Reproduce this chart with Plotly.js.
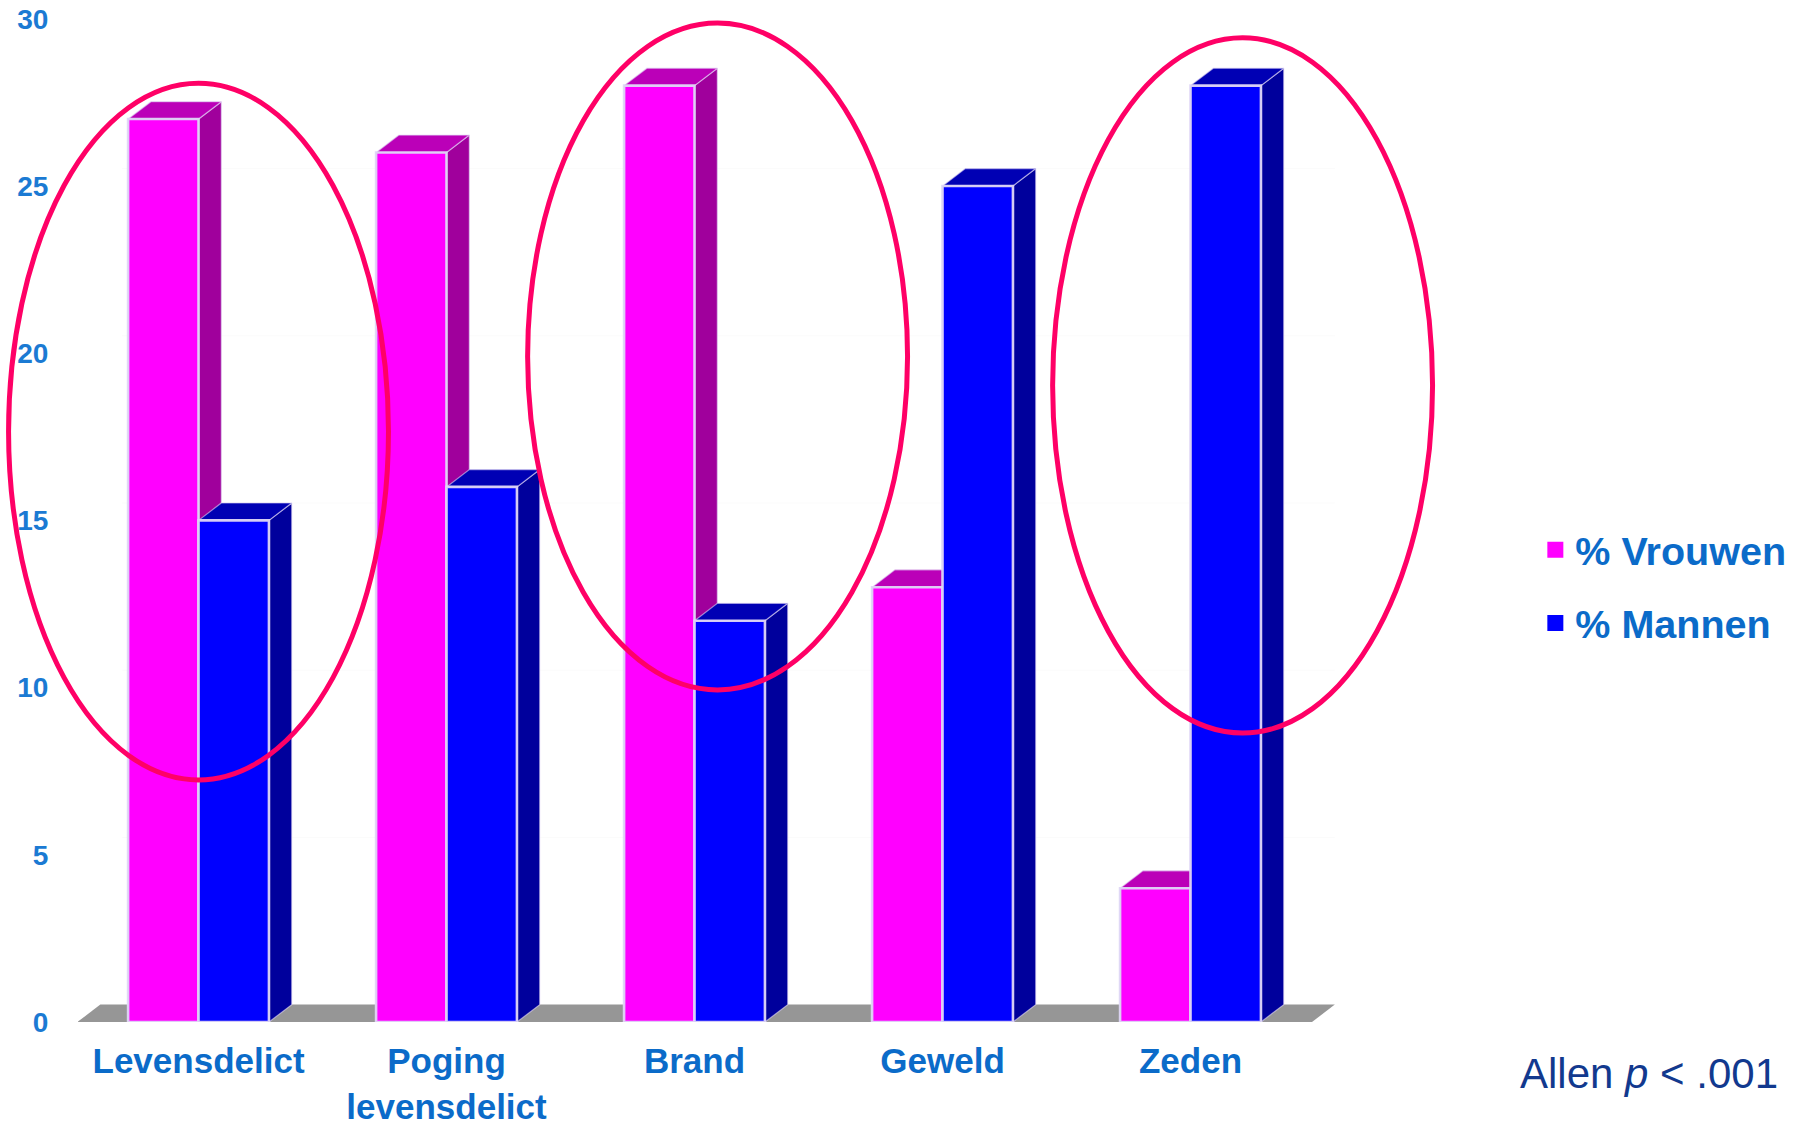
<!DOCTYPE html>
<html>
<head>
<meta charset="utf-8">
<script src="https://cdn.plot.ly/plotly-3.0.1.min.js"></script>
<style>html,body{margin:0;padding:0;background:#fff}#chart{width:1794px;height:1122px}</style>
</head>
<body>
<div id="chart"></div>
<script>
// Delict categories and percentages per gender
const categories = ["Levensdelict", "Poging<br>levensdelict", "Brand", "Geweld", "Zeden"];
const vrouwen = [27, 26, 28, 13, 4];
const mannen = [15, 16, 12, 25, 28];
const yTicks = [0, 5, 10, 15, 20, 25, 30];

// Axis set-up shared by the back layer and the front bars
const xRange = [-0.486, 5.006];
const yRange = [0, 30.5];
const margin = {l: 78, r: 354, t: 2, b: 100, pad: 0};
const barWidth = 0.284;
const depthX = 0.092;
const depthY = 0.52;

const BLUE_TEXT = "#0b6bc9";
const FONT = "'Liberation Sans', Arial, sans-serif";
const indices = categories.map((_, i) => i);

// Parallelogram for the receding right face of a bar
function sidePolygon(left, value, color) {
  const r = left + barWidth;
  return {
    type: "scatter", mode: "lines", fill: "toself", fillcolor: color,
    x: [r, r + depthX, r + depthX, r, r],
    y: [0, depthY, value + depthY, value, 0],
    line: {color: "rgba(225,215,245,0.6)", width: 1.2},
    hoverinfo: "skip", showlegend: false
  };
}
// Parallelogram for the top face of a bar
function topPolygon(left, value, color) {
  const r = left + barWidth;
  return {
    type: "scatter", mode: "lines", fill: "toself", fillcolor: color,
    x: [left, r, r + depthX, left + depthX, left],
    y: [value, value, value + depthY, value + depthY, value],
    line: {color: "rgba(225,215,245,0.6)", width: 1.2},
    hoverinfo: "skip", showlegend: false
  };
}

const traces = [];

// Faint gridlines on the back wall
yTicks.slice(1).forEach(t => traces.push({
  type: "scatter", mode: "lines",
  x: [-0.4 + depthX, 4.49 + depthX], y: [t + depthY, t + depthY],
  line: {color: "#fbfbfb", width: 1}, hoverinfo: "skip", showlegend: false
}));

// Grey floor strip
traces.push({
  type: "scatter", mode: "lines", fill: "toself", fillcolor: "#969696",
  x: [-0.488, 4.49, 4.49 + depthX, -0.488 + depthX, -0.488],
  y: [0, 0, depthY, depthY, 0],
  line: {color: "#969696", width: 0}, hoverinfo: "skip", showlegend: false
});

// Side and top faces sit beneath the front faces
indices.forEach(i => {
  traces.push(sidePolygon(i - barWidth, vrouwen[i], "#a0009c"));
  traces.push(topPolygon(i - barWidth, vrouwen[i], "#bb00b8"));
  traces.push(sidePolygon(i, mannen[i], "#00009c"));
  traces.push(topPolygon(i, mannen[i], "#0000b4"));
});

// Front faces, on an overlaid subplot so they cover the faces behind them
const edge = {color: "rgba(222,214,246,0.95)", width: 2.6};
traces.push({
  type: "bar", name: "% Vrouwen", x: indices, y: vrouwen, xaxis: "x2", yaxis: "y2",
  marker: {color: "#ff00ff", line: edge}, showlegend: false
});
traces.push({
  type: "bar", name: "% Mannen", x: indices, y: mannen, xaxis: "x2", yaxis: "y2",
  marker: {color: "#0000ff", line: edge}, showlegend: false
});

// Legend keys
[["% Vrouwen", "#ff00ff"], ["% Mannen", "#0000ff"]].forEach(([name, color]) => traces.push({
  type: "scatter", mode: "markers", name: name, x: [null], y: [null],
  legendgroup: name,
  marker: {symbol: "square", size: 16, color: color}
}));

// Convert axis values into paper fractions so the ovals may leave the plot area
const px = v => (v - xRange[0]) / (xRange[1] - xRange[0]);
const py = v => (v - yRange[0]) / (yRange[1] - yRange[0]);

function oval(cx, rx, top, bottom) {
  return {
    type: "circle", xref: "paper", yref: "paper",
    x0: px(cx - rx), x1: px(cx + rx), y0: py(bottom), y1: py(top),
    line: {color: "#ff0066", width: 5}, fillcolor: "rgba(0,0,0,0)", layer: "above"
  };
}

const layout = {
  width: 1794, height: 1122, margin: margin,
  paper_bgcolor: "#ffffff", plot_bgcolor: "#ffffff",
  barmode: "group", bargap: 1 - 2 * barWidth, bargroupgap: 0,
  font: {family: FONT},
  xaxis: {
    range: xRange, tickmode: "array", tickvals: indices, ticktext: categories,
    ticks: "outside", ticklen: 8, tickcolor: "rgba(0,0,0,0)",
    showgrid: false, zeroline: false, showline: false,
    tickfont: {family: FONT, size: 35, color: BLUE_TEXT, weight: 700},
    automargin: false, tickangle: 0
  },
  yaxis: {
    range: yRange, tickmode: "array", tickvals: yTicks,
    ticks: "outside", ticklen: 23, tickcolor: "rgba(0,0,0,0)",
    showgrid: false, zeroline: false, showline: false,
    tickfont: {family: FONT, size: 28, color: "#1b7ad3", weight: 700},
    automargin: false
  },
  xaxis2: {range: xRange, overlaying: "x", anchor: "y2", visible: false},
  yaxis2: {range: yRange, overlaying: "y", anchor: "x2", visible: false},
  legend: {
    x: 1.07, y: 0.427, xanchor: "left", yanchor: "middle",
    font: {family: FONT, size: 39.5, color: BLUE_TEXT, weight: 700},
    tracegroupgap: 19, traceorder: "grouped", itemwidth: 30,
    bgcolor: "rgba(0,0,0,0)"
  },
  shapes: [
    oval(0, 0.766, 28.07, 7.24),
    oval(2.093, 0.766, 29.87, 9.93),
    oval(4.21, 0.766, 29.43, 8.64)
  ],
  annotations: [{
    xref: "paper", yref: "paper", x: px(5.85), y: py(-1.525),
    xanchor: "center", yanchor: "middle", showarrow: false,
    text: "Allen <i>p</i> &lt; .001",
    font: {family: FONT, size: 42, color: "#12398e"}
  }]
};

Plotly.newPlot("chart", traces, layout, {displayModeBar: false, responsive: false});
</script>
</body>
</html>
